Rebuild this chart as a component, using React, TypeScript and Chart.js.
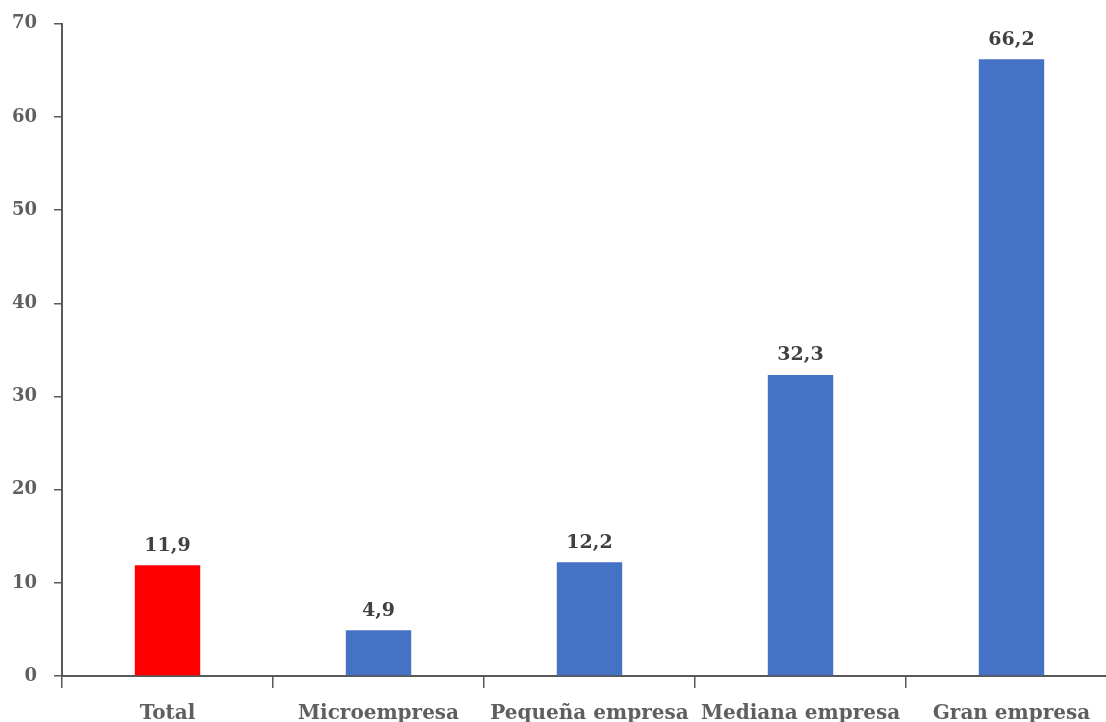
import React, { useEffect, useRef } from "react";
import { Chart, registerables } from "chart.js";

Chart.register(...registerables);

const categories = ["Total", "Microempresa", "Pequeña empresa", "Mediana empresa", "Gran empresa"];
const values = [11.9, 4.9, 12.2, 32.3, 66.2];
const barColors = ["#FF0000", "#4472C4", "#4472C4", "#4472C4", "#4472C4"];
const yTicks = [0, 10, 20, 30, 40, 50, 60, 70];

const FONT = "'DejaVu Serif', serif";
const AXIS = "#595959";
const TEXT = "#5f5f5f";

const valueLabels = {
  id: "valueLabels",
  afterDatasetsDraw(chart: any) {
    const ctx = chart.ctx;
    const meta = chart.getDatasetMeta(0);
    ctx.save();
    ctx.font = `bold 19px ${FONT}`;
    ctx.fillStyle = "#404040";
    ctx.textAlign = "center";
    ctx.textBaseline = "bottom";
    meta.data.forEach((el: any, i: number) => {
      const v = values[i];
      ctx.fillText(v.toFixed(1).replace(".", ","), el.x, el.y - 10);
    });
    ctx.restore();
  },
};

export default function App() {
  const ref = useRef<HTMLCanvasElement>(null);
  useEffect(() => {
    if (!ref.current) return;
    const chart = new Chart(ref.current, {
      type: "bar",
      data: {
        labels: categories,
        datasets: [
          {
            data: values,
            backgroundColor: barColors,
            categoryPercentage: 1,
            barPercentage: 0.31,
          },
        ],
      },
      options: {
        responsive: false,
        animation: false,
        layout: { padding: { top: 14, right: 0, left: 0, bottom: 0 } },
        plugins: { legend: { display: false }, tooltip: { enabled: false } },
        scales: {
          x: {
            grid: {
              drawOnChartArea: false,
              drawTicks: true,
              tickLength: 12,
              color: AXIS,
              lineWidth: 1.5,
              offset: true,
            },
            border: { display: true, color: AXIS, width: 2 },
            ticks: {
              color: TEXT,
              font: { family: FONT, size: 20, weight: "bold" },
              padding: 14,
              maxRotation: 0,
              autoSkip: false,
            },
            afterFit: (s: any) => {
              s.height = 46;
            },
          },
          y: {
            min: 0,
            max: 70,
            afterBuildTicks: (s: any) => {
              s.ticks = yTicks.map((v) => ({ value: v }));
            },
            grid: {
              drawOnChartArea: false,
              drawTicks: true,
              tickLength: 8,
              color: AXIS,
              lineWidth: 1.5,
            },
            border: { display: true, color: AXIS, width: 2 },
            ticks: {
              color: TEXT,
              font: { family: FONT, size: 18, weight: "bold" },
              padding: 17,
            },
            afterFit: (s: any) => {
              s.width = 62;
            },
          },
        },
      },
      plugins: [valueLabels],
    });
    return () => chart.destroy();
  }, []);
  return (
    <div style={{ position: "fixed", left: 0, top: 0, width: 1106, height: 722, overflow: "hidden", background: "#fff" }}>
      <canvas ref={ref} width={1117} height={726} style={{ display: "block", marginTop: -4 }} />
    </div>
  );
}
